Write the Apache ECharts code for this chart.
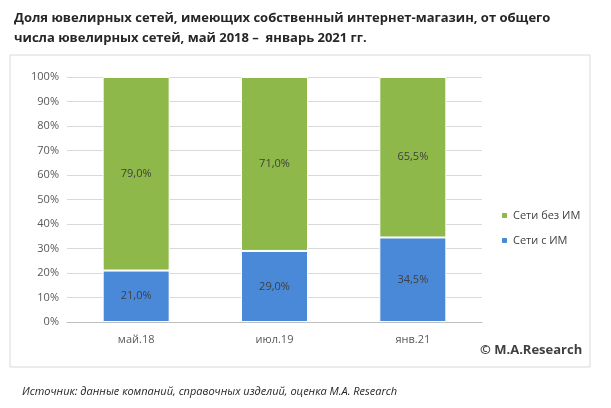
<!DOCTYPE html>
<html>
<head>
<meta charset="utf-8">
<script src="https://cdn.jsdelivr.net/npm/echarts@6/dist/echarts.min.js"></script>
<style>
html,body{margin:0;padding:0;background:#fff;}
#main{width:611px;height:408px;}
</style>
</head>
<body>
<div id="main"></div>
<script>
var categories = ['май.18', 'июл.19', 'янв.21'];
var withShop = [21.0, 29.0, 34.5];
var withoutShop = [79.0, 71.0, 65.5];
var yTicks = [0, 10, 20, 30, 40, 50, 60, 70, 80, 90, 100];

var app = echarts.init(document.getElementById('main'));
var lbl = {
	show: true,
	color: '#404040',
	fontSize: 11,
	fontFamily: 'Open Sans',
	formatter: function (p) { return p.value.toFixed(1).replace('.', ',') + '%'; }
};
var option = {
	textStyle: {fontFamily: 'Open Sans'},
	graphic: [
		{type: 'rect', shape: {x: 10, y: 55, width: 580, height: 312}, style: {fill: 'none', stroke: '#d9d9d9', lineWidth: 1}},
		{type: 'text', left: 14, top: 8, style: {text: 'Доля ювелирных сетей, имеющих собственный интернет-магазин, от общего\nчисла ювелирных сетей, май 2018 –  январь 2021 гг.', fontSize: 13, fontWeight: 'bold', fill: '#262626', lineHeight: 20, fontFamily: 'Open Sans'}},
		{type: 'text', left: 480, top: 344, style: {text: '© M.A.Research', fontSize: 13, fontWeight: 'bold', fill: '#404040', fontFamily: 'Open Sans'}},
		{type: 'text', left: 22, top: 386, style: {text: 'Источник: данные компаний, справочных изделий, оценка M.A. Research', fontSize: 11, fontStyle: 'italic', fill: '#262626', fontFamily: 'Open Sans'}}
	],
	legend: {
		orient: 'vertical',
		left: 495,
		top: 205,
		itemWidth: 7,
		itemHeight: 7,
		itemGap: 14,
		textStyle: {fontSize: 11, color: '#404040'},
		data: ['Сети без ИМ', 'Сети с ИМ']
	},
	grid: {left: 67, right: 129, top: 77, bottom: 86},
	xAxis: {
		type: 'category',
		data: categories,
		axisLine: {lineStyle: {color: '#bfbfbf'}},
		axisTick: {show: false},
		axisLabel: {color: '#595959', fontSize: 11, margin: 12}
	},
	yAxis: {
		type: 'value',
		min: 0, max: 100, interval: 10,
		axisLabel: {color: '#595959', fontSize: 11, formatter: function (v) { return yTicks.indexOf(v) >= 0 ? v + '%' : ''; }},
		splitLine: {lineStyle: {color: '#d9d9d9'}},
		axisLine: {show: false},
		axisTick: {show: false}
	},
	series: [
		{name: 'Сети с ИМ', type: 'bar', stack: 'a', barWidth: 67, data: withShop,
			itemStyle: {color: '#4a89d8', borderColor: '#fff', borderWidth: 1}, label: lbl},
		{name: 'Сети без ИМ', type: 'bar', stack: 'a', barWidth: 67, data: withoutShop,
			itemStyle: {color: '#8fb84a', borderColor: '#fff', borderWidth: 1}, label: lbl}
	]
};
app.setOption(option);
</script>
</body>
</html>
